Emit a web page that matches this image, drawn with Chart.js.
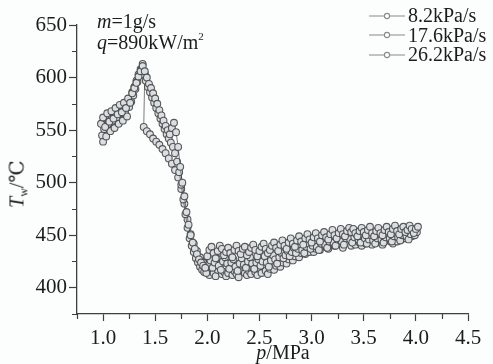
<!DOCTYPE html>
<html>
<head>
<meta charset="utf-8">
<script src="https://cdn.jsdelivr.net/npm/chart.js@4/dist/chart.umd.min.js"></script>
<style>
  html, body { margin: 0; padding: 0; background: #fcfdfd; }
  #wrap { position: relative; width: 493px; height: 364px; font-family: "Liberation Serif", "DejaVu Serif", serif; color: #1c1c1c; }
  #chart { position: absolute; left: 0; top: 0; }
  .note { position: absolute; font-size: 20px; line-height: 20px; white-space: nowrap; }
  .note i { font-style: italic; }
  .note sup { font-size: 11px; vertical-align: 0; position: relative; top: -9px; }
  #legend { position: absolute; left: 369px; top: 6px; font-size: 20px; line-height: 19.5px; }
  #legend .row { display: flex; align-items: center; height: 19.5px; white-space: nowrap; }
  #legend svg { margin-right: 3px; }
  #ytitle { position: absolute; left: 18px; top: 184px; transform: translate(-50%, -50%) rotate(-90deg); font-size: 20px; white-space: nowrap; }
  #ytitle sub { font-size: 12px; vertical-align: -4px; }
  #xtitle { position: absolute; left: 283px; top: 341px; transform: translateX(-50%); font-size: 20px; white-space: nowrap; }
</style>
</head>
<body>
<div id="wrap">
  <canvas id="chart" width="493" height="364"></canvas>
  <div class="note" style="left:97px; top:11px;"><i>m</i>=1g/s</div>
  <div class="note" style="left:97px; top:32px;"><i>q</i>=890kW/m<sup>2</sup></div>
  <div id="legend"></div>
  <div id="ytitle"><i>T</i><sub>w</sub>/℃</div>
  <div id="xtitle"><i>p</i>/MPa</div>
</div>
<script>
// Wall temperature vs. pressure for three pressurisation rates
const seriesNames = ['8.2kPa/s', '17.6kPa/s', '26.2kPa/s'];

const pressure82 = [
  0.98,1.00,1.02,1.04,1.06,1.08,1.10,1.12,1.14,1.16,1.18,1.20,1.22,1.24,1.26,1.28,1.30,1.32,1.34,1.36,1.38,
  1.40,1.42,1.44,1.46,1.48,1.50,1.52,1.54,1.56,1.58,1.60,1.62,1.64,1.66,1.68,1.70,1.72,1.74,1.76,1.78,1.80,
  1.82,1.84,1.86,1.88,1.90,1.92,1.94,1.96,1.98,
  2.00,2.02,2.04,2.06,2.08,2.10,2.12,2.14,2.16,2.18,
  2.20,2.22,2.24,2.26,2.28,2.30,2.32,2.34,2.36,2.38,
  2.40,2.42,2.44,2.46,2.48,2.50,2.52,2.54,2.56,2.58,
  2.60,2.62,2.64,2.66,2.68,2.70,2.72,2.74,2.76,2.78,
  2.80,2.82,2.84,2.86,2.88,2.90,2.92,2.94,2.96,2.98,
  3.00,3.02,3.04,3.06,3.08,3.10,3.12,3.14,3.16,3.18,
  3.20,3.22,3.24,3.26,3.28,3.30,3.32,3.34,3.36,3.38,
  3.40,3.42,3.44,3.46,3.48,3.50,3.52,3.54,3.56,3.58,
  3.60,3.62,3.64,3.66,3.68,3.70,3.72,3.74,3.76,3.78,
  3.80,3.82,3.84,3.86,3.88,3.90,3.92,3.94,3.96,3.98,
  4.00,4.02
];
const temp82 = [
  556,562,553,566,558,568,561,571,565,574,567,576,571,580,576,585,590,595,601,606,611,
  606,600,594,590,585,580,575,569,564,559,554,550,546,552,557,548,534,515,500,487,472,
  460,450,443,437,432,427,424,421,419,
  430,436,439,433,428,435,440,437,431,434,
  438,433,429,436,440,435,432,437,439,431,
  434,438,441,436,430,435,439,442,437,433,
  436,440,443,438,435,441,445,440,437,443,
  447,442,439,445,449,444,441,447,451,446,
  443,448,452,447,444,450,453,448,446,451,
  455,450,447,452,456,451,449,454,457,453,
  456,452,449,454,457,453,450,455,458,452,
  449,454,457,452,450,455,458,453,451,456,
  459,454,451,456,458,453,455,459,456,452,
  456,458
];

const pressure176 = [
  0.99,1.01,1.03,1.05,1.07,1.09,1.11,1.13,1.15,1.17,1.19,1.21,1.23,1.25,1.27,1.29,1.31,1.33,1.35,1.37,
  1.39,1.41,1.43,1.45,1.47,1.49,1.51,1.53,1.55,1.57,1.59,1.61,1.63,1.65,1.67,1.69,1.71,1.73,1.75,1.77,
  1.79,1.81,1.83,1.85,1.87,1.89,1.91,1.93,1.95,1.97,1.99,
  2.01,2.03,2.05,2.07,2.09,2.11,2.13,2.15,2.17,2.19,
  2.21,2.23,2.25,2.27,2.29,2.31,2.33,2.35,2.37,2.39,
  2.41,2.43,2.45,2.47,2.49,2.51,2.53,2.55,2.57,2.59,
  2.61,2.63,2.65,2.67,2.69,2.71,2.73,2.75,2.77,2.79,
  2.81,2.83,2.85,2.87,2.89,2.91,2.93,2.95,2.97,2.99,
  3.01,3.03,3.05,3.07,3.09,3.11,3.13,3.15,3.17,3.19,
  3.21,3.23,3.25,3.27,3.29,3.31,3.33,3.35,3.37,3.39,
  3.41,3.43,3.45,3.47,3.49,3.51,3.53,3.55,3.57,3.59,
  3.61,3.63,3.65,3.67,3.69,3.71,3.73,3.75,3.77,3.79,
  3.81,3.83,3.85,3.87,3.89,3.91,3.93,3.95,3.97,3.99,
  4.01
];
const temp176 = [
  545,551,544,556,549,559,552,562,556,566,559,568,563,572,577,583,589,596,602,608,
  603,597,591,586,581,576,571,566,561,556,551,546,542,538,534,528,520,510,498,484,
  470,457,447,440,434,428,424,420,417,415,414,
  422,426,419,424,428,421,417,425,429,423,
  418,424,427,420,416,423,428,422,419,425,
  429,423,418,424,427,421,425,430,424,420,
  426,431,427,423,429,433,428,431,435,430,
  434,438,433,437,441,436,433,439,442,437,
  440,444,439,436,442,446,441,438,444,447,
  443,440,446,449,444,441,447,450,446,443,
  448,451,446,443,449,447,442,446,450,445,
  442,447,451,446,443,448,452,447,444,449,
  452,448,445,450,454,449,446,451,455,450,
  453
];

const pressure262 = [
  1.00,1.02,1.04,1.06,1.08,1.10,1.12,1.14,1.16,1.18,1.20,1.22,1.24,1.26,1.28,1.30,1.32,1.34,1.36,1.38,1.40,
  1.39,1.42,1.45,1.48,1.51,1.54,1.57,1.60,1.63,1.66,1.69,1.72,1.75,1.78,1.81,1.84,1.87,1.90,1.93,1.96,
  2.00,2.02,2.04,2.06,2.08,2.10,2.12,2.14,2.16,2.18,
  2.20,2.22,2.24,2.26,2.28,2.30,2.32,2.34,2.36,2.38,
  2.40,2.42,2.44,2.46,2.48,2.50,2.52,2.54,2.56,2.58,
  2.60,2.62,2.64,2.66,2.68,2.70,2.72,2.74,2.76,2.78,
  2.80,2.82,2.84,2.86,2.88,2.90,2.92,2.94,2.96,2.98,
  3.00,3.02,3.04,3.06,3.08,3.10,3.12,3.14,3.16,3.18,
  3.20,3.22,3.24,3.26,3.28,3.30,3.32,3.34,3.36,3.38,
  3.40,3.42,3.44,3.46,3.48,3.50,3.52,3.54,3.56,3.58,
  3.60,3.62,3.64,3.66,3.68,3.70,3.72,3.74,3.76,3.78,
  3.80,3.82,3.84,3.86,3.88,3.90,3.92,3.94,3.96,3.98,
  4.00
];
const temp262 = [
  539,548,557,550,561,554,564,557,567,560,570,564,574,580,586,591,597,603,608,613,604,
  553,549,546,542,539,536,532,528,523,518,512,505,494,480,465,451,442,435,429,424,
  416,412,418,414,411,417,420,413,415,411,
  414,419,412,416,413,410,417,421,414,412,
  416,413,419,415,412,418,414,420,416,413,
  418,422,417,421,425,420,424,428,423,427,
  431,426,430,434,429,433,437,432,436,434,
  438,434,437,441,436,440,444,439,437,442,
  445,440,443,447,442,438,444,448,443,440,
  445,441,447,443,440,446,442,448,444,441,
  446,443,448,444,441,447,445,449,444,442,
  447,444,449,446,451,447,450,453,449,452,
  455
];

const xTicks = { min: 0.75, max: 4.5, step: 0.25 };
const yTicks = { min: 375, max: 650, step: 25 };

const pressures = [pressure82, pressure176, pressure262];
const temps = [temp82, temp176, temp262];

const ink = '#3f3f3f';
const tickFont = { family: '"Liberation Serif", "Times New Roman", serif', size: 21 };

const datasets = seriesNames.map((name, i) => ({
  label: name,
  data: pressures[i].map((p, k) => ({ x: p, y: temps[i][k] })),
  showLine: true,
  borderColor: 'rgba(70,70,70,0.7)',
  borderWidth: 1,
  pointStyle: 'circle',
  pointRadius: 3.4,
  pointBorderWidth: 1.1,
  pointBorderColor: 'rgba(72,72,72,0.9)',
  pointBackgroundColor: '#d9dfe3',
  tension: 0
}));

const isHalf = v => Math.abs(v * 2 - Math.round(v * 2)) < 1e-6;
const isFifty = v => Math.abs(v / 50 - Math.round(v / 50)) < 1e-6;

// Short minor ticks between the labelled ones
const minorTicks = {
  id: 'minorTicks',
  afterDraw(chart) {
    const ctx = chart.ctx;
    const xs = chart.scales.x, ys = chart.scales.y;
    ctx.save();
    ctx.strokeStyle = ink;
    ctx.lineWidth = 1.2;
    ctx.beginPath();
    for (let v = xTicks.min; v <= xTicks.max + 1e-9; v += xTicks.step) {
      if (isHalf(v) && v >= 1) continue;
      const px = Math.round(xs.getPixelForValue(v)) + 0.5;
      ctx.moveTo(px, xs.top);
      ctx.lineTo(px, xs.top + 5);
    }
    for (let v = yTicks.min; v <= yTicks.max + 1e-9; v += yTicks.step) {
      if (isFifty(v)) continue;
      const py = Math.round(ys.getPixelForValue(v)) + 0.5;
      ctx.moveTo(ys.right, py);
      ctx.lineTo(ys.right - 5, py);
    }
    ctx.stroke();
    ctx.restore();
  }
};

function draw() {
  new Chart(document.getElementById('chart'), {
    type: 'scatter',
    data: { datasets },
    options: {
      responsive: false,
      animation: false,
      layout: { padding: { top: 25, right: 25, left: 0, bottom: 0 } },
      plugins: { legend: { display: false }, tooltip: { enabled: false } },
      scales: {
        x: {
          type: 'linear',
          min: xTicks.min, max: xTicks.max,
          border: { display: true, color: ink, width: 1.3 },
          grid: {
            drawOnChartArea: false, drawTicks: true, tickLength: 7, tickWidth: 1.2,
            tickColor: c => (isHalf(c.tick.value) && c.tick.value >= 1) ? ink : 'rgba(0,0,0,0)'
          },
          ticks: {
            stepSize: xTicks.step, padding: 5, maxRotation: 0, autoSkip: false,
            color: '#1c1c1c', font: tickFont,
            callback: v => (isHalf(v) && v >= 1) ? v.toFixed(1) : ''
          },
          afterFit: s => { s.height = 50; }
        },
        y: {
          type: 'linear',
          min: yTicks.min, max: yTicks.max,
          border: { display: true, color: ink, width: 1.3 },
          grid: {
            drawOnChartArea: false, drawTicks: true, tickLength: 8, tickWidth: 1.2,
            tickColor: c => isFifty(c.tick.value) ? ink : 'rgba(0,0,0,0)'
          },
          ticks: {
            stepSize: yTicks.step, padding: 2, autoSkip: false,
            color: '#1c1c1c', font: tickFont,
            callback: v => (isFifty(v) && v >= 400) ? String(v) : ''
          },
          afterFit: s => { s.width = 77; }
        }
      }
    },
    plugins: [minorTicks]
  });
}

// Legend rows: short line with a hollow marker, then the series name
const legend = document.getElementById('legend');
seriesNames.forEach(name => {
  const row = document.createElement('div');
  row.className = 'row';
  row.innerHTML =
    '<svg width="36" height="10"><line x1="0" y1="5" x2="36" y2="5" stroke="#8a8a8a" stroke-width="1.2"/>' +
    '<circle cx="18" cy="5" r="2.6" fill="#ffffff" stroke="#8a8a8a" stroke-width="1.1"/></svg>' +
    '<span></span>';
  row.querySelector('span').textContent = name;
  legend.appendChild(row);
});

if (document.fonts && document.fonts.load) {
  document.fonts.load('21px "Liberation Serif"').then(draw, draw);
} else {
  draw();
}
</script>
</body>
</html>
